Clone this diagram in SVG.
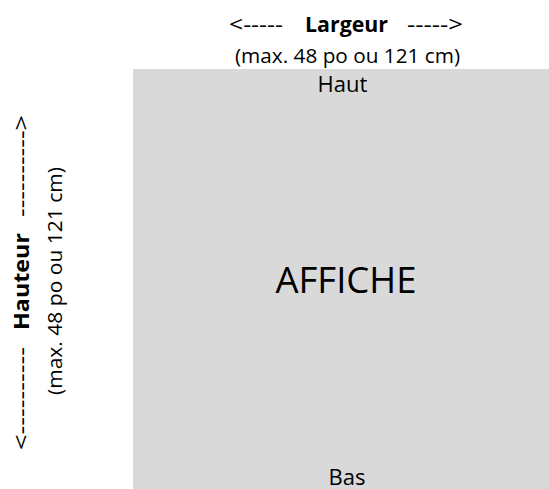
<svg xmlns="http://www.w3.org/2000/svg" width="549" height="489" viewBox="0 0 549 489">
<style>
  text { font-family: "Open Sans", "Liberation Sans", sans-serif; fill: #000000; }
  .b { font-weight: bold; font-size: 22px; }
  .r { font-size: 22px; }
  .s { font-size: 20.5px; }
  .big { font-size: 36.5px; }
</style>
<rect width="549" height="489" fill="#ffffff"/>
<g id="affiche">
  <rect x="133" y="69" width="416" height="420" fill="#d9d9d9"/>
  <text class="r" x="342.5" y="92" text-anchor="middle">Haut</text>
  <text class="big" x="346" y="293" text-anchor="middle">AFFICHE</text>
  <text class="r" x="347" y="485" text-anchor="middle">Bas</text>
</g>
<g id="largeur">
  <text class="r" x="229" y="32" textLength="54" lengthAdjust="spacingAndGlyphs">&lt;-----</text>
  <text class="b" x="305" y="32" textLength="83" lengthAdjust="spacingAndGlyphs">Largeur</text>
  <text class="r" x="407" y="32" textLength="56" lengthAdjust="spacingAndGlyphs">-----&gt;</text>
  <text class="s" x="235" y="63" textLength="225" lengthAdjust="spacingAndGlyphs">(max. 48 po ou 121 cm)</text>
</g>
<g id="hauteur">
  <text class="r" transform="translate(29,450) rotate(-90)" textLength="103" lengthAdjust="spacingAndGlyphs">&lt;----------</text>
  <text class="b" transform="translate(29,330) rotate(-90)" textLength="97" lengthAdjust="spacingAndGlyphs">Hauteur</text>
  <text class="r" transform="translate(29,217) rotate(-90)" textLength="102" lengthAdjust="spacingAndGlyphs">----------&gt;</text>
  <text class="s" transform="translate(62,395) rotate(-90)" textLength="228" lengthAdjust="spacingAndGlyphs">(max. 48 po ou 121 cm)</text>
</g>
</svg>
